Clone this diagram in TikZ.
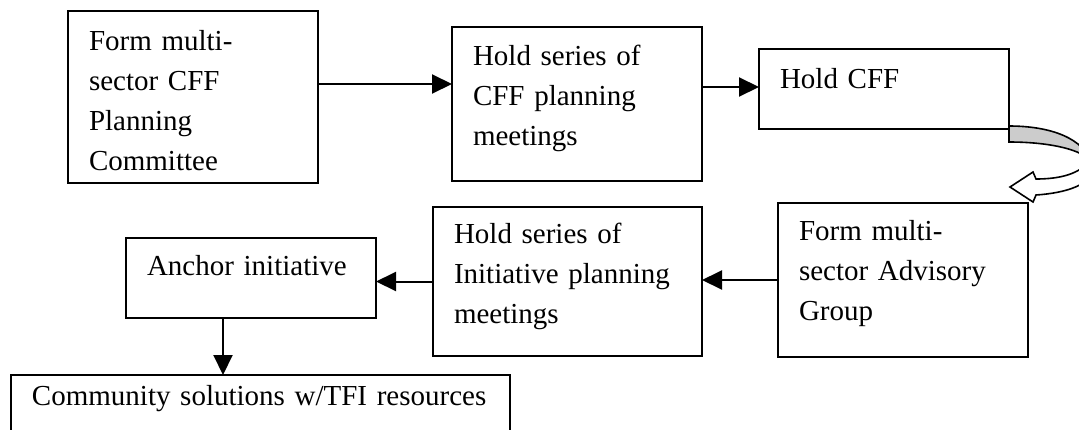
\documentclass[tikz,border=0pt]{standalone}
\usepackage{fontspec}
\setmainfont{Liberation Serif}
\usetikzlibrary{arrows.meta}
\begin{document}
\begin{tikzpicture}[x=0.5pt,y=-0.5pt,
    stepbox/.style={draw,line width=1pt,anchor=north west,outer sep=0pt,align=left,
        inner xsep=10.5pt,inner ysep=0pt,font=\fontsize{14.5}{20}\selectfont},
    flow/.style={line width=1pt,-{Triangle[length=10pt,width=9.5pt]}},
    turn/.style={draw,line width=0.8pt,line join=miter}]
    \useasboundingbox (0,0) rectangle (1079,429);
    \clip (0,0) rectangle (1079,429);
    \node(form)[stepbox,text width=104pt,text height=19.5pt,text depth=66.5pt] at (68,11){Form multi-\\sector CFF\\Planning\\Committee};
    \node(series)[stepbox,text width=104pt,text height=19pt,text depth=58pt] at (452,27){Hold series of\\CFF planning\\meetings};
    \node(hold)[stepbox,text width=104pt,text height=19.5pt,text depth=20.5pt] at (759,49){Hold CFF};
    \node(advisory)[stepbox,text width=104pt,text height=18.5pt,text depth=58.5pt] at (778,203){Form multi-\\sector Advisory\\Group};
    \node(initiative)[stepbox,text width=113.5pt,text height=18pt,text depth=56.5pt] at (433,207){Hold series of\\Initiative planning\\meetings};
    \node(anchor)[stepbox,text width=104pt,text height=18.5pt,text depth=21.5pt] at (126,238){Anchor initiative};
    \node(community)[stepbox,text width=228.5pt,text height=15pt,text depth=25pt] at (11,375){Community solutions w/TFI resources};
    \coordinate (fs) at ([yshift=6.5pt]form.east);
    \draw[flow] (fs) -- (fs -| series.west);
    \coordinate (sh) at ([yshift=8.5pt]series.east);
    \draw[flow] (sh) -- (sh -| hold.west);
    \draw[flow] (advisory.west) -- (advisory.west -| initiative.east);
    \draw[flow] (initiative.west) -- (initiative.west -| anchor.east);
    \coordinate (ac) at ([xshift=-14pt]anchor.south);
    \draw[flow] (ac) -- (ac |- community.north);
    % u-turn arrow from Hold CFF down to the advisory group
    \filldraw[turn,fill=gray!40] (1009,126) .. controls (1050,126) and (1085,138) .. (1092,165)
        -- (1090,160) .. controls (1078,148) and (1045,142) .. (1009,142) -- cycle;
    \filldraw[turn,fill=white] (1092,165) .. controls (1095,185) and (1065,193) .. (1036,195)
        -- (1033,202) -- (1010,187) -- (1033,172) -- (1036,179)
        .. controls (1060,179) and (1080,174) .. (1090,160) -- cycle;
\end{tikzpicture}
\end{document}
